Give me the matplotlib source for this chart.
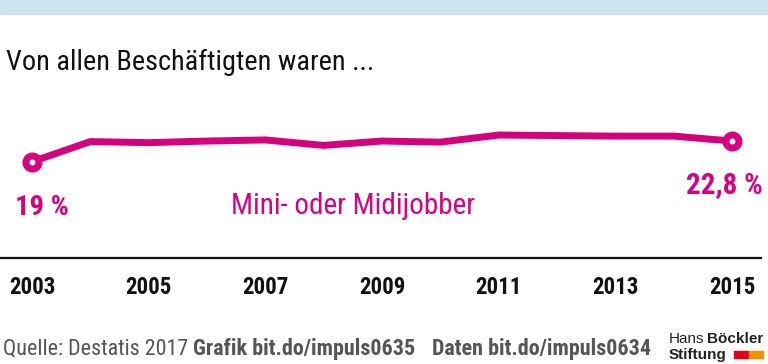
import matplotlib
matplotlib.use("Agg")
import matplotlib.pyplot as plt
from matplotlib.patches import Rectangle

# data
years = [2003, 2004, 2005, 2006, 2007, 2008, 2009, 2010, 2011, 2012, 2013, 2014, 2015]
share = [19.0, 22.7, 22.5, 22.8, 23.0, 22.0, 22.8, 22.6, 23.9, 23.8, 23.7, 23.7, 22.8]
tick_years = [2003, 2005, 2007, 2009, 2011, 2013, 2015]
series_name = "Mini- oder Midijobber"
first_label = "19 %"
last_label = "22,8 %"

plt.rcParams["font.family"] = ["Roboto Condensed", "DejaVu Sans"]

MAGENTA = "#d4007e"
W, H = 768, 364

fig = plt.figure(figsize=(W / 100, H / 100), dpi=100)

# light blue band on top
fig.patches.append(Rectangle((0, 1 - 14 / H), 1, 14 / H, transform=fig.transFigure,
                             color="#cde5ef", zorder=0))

fig.text(6 / W, 1 - 70.5 / H, "Von allen Beschäftigten waren ...", fontsize=20.3,
         color="#111111", va="baseline", ha="left")

# main axes: bottom spine is the black baseline
ax = fig.add_axes([0, 1 - 257.7 / H, 761 / W, (257.7 - 14) / H])
px_per_year = 700 / 12
ax.set_xlim(2003 - 32 / px_per_year, 2003 + (761 - 32) / px_per_year)
ax.set_ylim(1.4, 46.1)
ax.patch.set_visible(False)
for s in ["top", "left", "right"]:
    ax.spines[s].set_visible(False)
ax.spines["bottom"].set_linewidth(1.6)
ax.spines["bottom"].set_color("#111111")
ax.set_yticks([])
ax.set_xticks(tick_years)
ax.set_xticklabels([str(y) for y in tick_years], fontsize=16.5, fontweight="bold",
                   color="#111111")
ax.tick_params(axis="x", length=0, pad=13)

ax.plot(years, share, color=MAGENTA, lw=5, solid_joinstyle="round",
        solid_capstyle="round", zorder=3)
ax.plot([years[0], years[-1]], [share[0], share[-1]], ls="none", marker="o",
        ms=9.4, mew=5, mfc="white", mec=MAGENTA, zorder=4)

ax.annotate(first_label, (years[0], share[0]), xytext=(-17, -53), textcoords="offset pixels",
            fontsize=20.5, fontweight="bold", color=MAGENTA, ha="left", va="baseline")
ax.annotate(last_label, (years[-1], share[-1]), xytext=(-46, -52), textcoords="offset pixels",
            fontsize=21, fontweight="bold", color=MAGENTA, ha="left", va="baseline")
ax.text(353 / 761, (257.7 - 214) / (257.7 - 14), series_name, transform=ax.transAxes,
        fontsize=21, color=MAGENTA, ha="center", va="baseline")

# footer
GREY = "#555555"
fig.text(3 / W, 1 - 355 / H, "Quelle: Destatis 2017", fontsize=15.8, color=GREY,
         va="baseline")
fig.text(193 / W, 1 - 355 / H, "Grafik bit.do/impuls0635", fontsize=15.8,
         fontweight="bold", color=GREY, va="baseline")
fig.text(432 / W, 1 - 355 / H, "Daten bit.do/impuls0634", fontsize=15.8,
         fontweight="bold", color=GREY, va="baseline")

# logo
LOGO = ["Liberation Sans", "DejaVu Sans"]
h1 = fig.text(669 / W, 1 - 343 / H, "Hans", fontsize=11, color="#222222", va="baseline",
              family=LOGO)
ax.annotate("Böckler", xy=(1, 0), xycoords=h1, xytext=(3, 0), textcoords="offset pixels",
            fontsize=11, fontweight="bold", color="#222222", va="bottom", family=LOGO,
            annotation_clip=False)
fig.text(669 / W, 1 - 359 / H, "Stiftung", fontsize=11, fontweight="bold",
         color="#222222", va="baseline", family=LOGO)
fig.patches.append(Rectangle((734 / W, 1 - 358 / H), 14 / W, 7 / H,
                             transform=fig.transFigure, color="#e2001a"))
fig.patches.append(Rectangle((749 / W, 1 - 358 / H), 14 / W, 7 / H,
                             transform=fig.transFigure, color="#f39200"))

fig.savefig("out.png", dpi=100)
